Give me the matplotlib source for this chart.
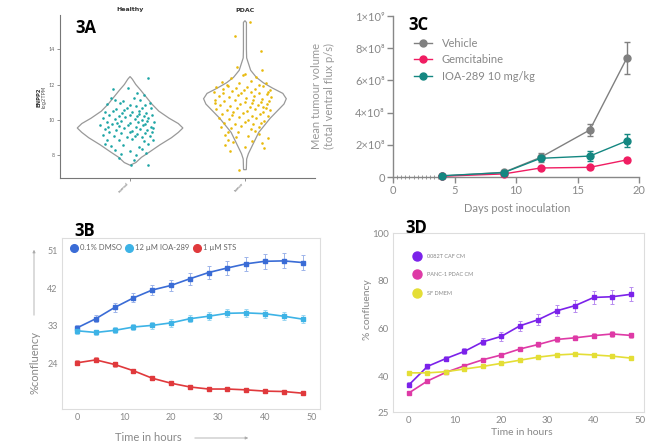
"""
Four-panel figure: ENPP2 violin (3A), incucyte confluency (3B, 3D),
tumour volume growth (3C).
"""
import numpy as np
import matplotlib
matplotlib.use("Agg")
import matplotlib.pyplot as plt
from matplotlib.lines import Line2D
from matplotlib.ticker import FixedLocator

W, H = 652, 444
GREY = "#888888"
FRAME = "#dddddd"

plt.rcParams["font.family"] = ["Lato", "DejaVu Sans"]

# ---------------- 3A : ENPP2 expression ----------------
categories = ["normal", "tumor"]
group_titles = ["Healthy", "PDAC"]

healthy_violin_y = [7.45, 7.6, 7.9, 8.2, 8.6, 9.0, 9.3, 9.55, 9.8, 10.1,
                    10.5, 10.9, 11.3, 11.7, 12.0, 12.3, 12.45]
healthy_violin_w = [0.0, 0.05, 0.10, 0.17, 0.26, 0.36, 0.42, 0.46, 0.42, 0.34,
                    0.25, 0.19, 0.14, 0.09, 0.05, 0.02, 0.0]
tumor_violin_y = [7.2, 7.8, 8.1, 8.5, 8.9, 9.3, 9.7, 10.1, 10.5, 10.9, 11.2,
                  11.5, 11.8, 12.1, 12.4, 12.8, 13.2, 13.5, 14.0, 15.5, 15.6]
tumor_violin_w = [0.012, 0.015, 0.03, 0.06, 0.09, 0.12, 0.17, 0.22, 0.28, 0.34,
                  0.36, 0.33, 0.24, 0.16, 0.10, 0.05, 0.03, 0.015, 0.013,
                  0.013, 0.0]

healthy_dx = [0.16, -0.15, -0.02, 0.06, 0.12, -0.17, -0.13, 0.17, 0.03, -0.06,
              0.09, -0.20, 0.00, 0.13, -0.09, 0.05, -0.03, 0.10, -0.12, 0.18,
              -0.22, -0.15, -0.05, 0.02, 0.08, 0.14, -0.18, -0.10, 0.00, 0.06,
              0.12, 0.19, -0.24, -0.13, -0.04, 0.04, 0.10, 0.16, -0.20, -0.08,
              0.00, 0.07, 0.13, 0.21, -0.26, -0.16, -0.10, -0.02, 0.05, 0.11,
              0.18, -0.22, -0.12, -0.05, 0.02, 0.09, 0.15, 0.20, -0.18, -0.08,
              0.00, 0.06, 0.13, 0.19, -0.24, -0.14, -0.03, 0.04, 0.10, 0.17,
              -0.19, 0.08, -0.07, 0.15, -0.11,
              -0.20, -0.10, 0.02, 0.12, 0.20, -0.17, -0.06, 0.08, 0.16, -0.13,
              0.00, 0.10, -0.22, -0.08, 0.05, 0.14, -0.10, 0.03, 0.01, 0.16]
healthy_y = [12.37, 11.72, 11.80, 11.52, 11.40, 11.22, 11.15, 10.95, 11.25, 11.05,
             11.10, 10.90, 10.85, 10.82, 10.95, 10.78, 10.70, 10.65, 10.60, 10.70,
             10.45, 10.50, 10.55, 10.45, 10.50, 10.40, 10.30, 10.25, 10.30, 10.20,
             10.25, 10.30, 10.10, 10.05, 10.15, 10.05, 10.00, 10.10, 9.90, 9.95,
             9.85, 9.90, 9.80, 9.90, 9.70, 9.75, 9.65, 9.70, 9.60, 9.70,
             9.62, 9.50, 9.45, 9.55, 9.40, 9.50, 9.45, 9.55, 9.30, 9.25,
             9.30, 9.20, 9.28, 9.35, 9.15, 9.10, 9.05, 9.12, 9.02, 9.10,
             9.60, 10.35, 10.40, 9.95, 9.85,
             8.90, 8.85, 8.92, 8.80, 8.88, 8.55, 8.60, 8.50, 8.62, 8.30,
             8.25, 8.35, 8.65, 8.10, 8.05, 8.15, 7.85, 7.75, 7.46, 7.46]

tumor_dx = [0.04, -0.09, 0.14, 0.15, -0.07, -0.16, 0.10, -0.02, -0.12, 0.05,
            0.18, -0.20, -0.05, 0.00,
            -0.25, -0.15, -0.08, 0.02, 0.09, 0.16, 0.22, -0.27, -0.19, -0.11,
            -0.03, 0.05, 0.12, 0.19, -0.23, -0.14, -0.06, 0.01, 0.08, 0.15,
            0.23, -0.26, -0.18, -0.09, 0.00, 0.07, 0.14, 0.21, -0.22, -0.13,
            -0.04, 0.04, 0.11, 0.18, -0.25, -0.16, -0.07, 0.02, 0.09, 0.16,
            0.22, -0.20, -0.11, -0.02, 0.06, 0.13, 0.20, -0.23, -0.14, -0.05,
            0.03, 0.10, 0.17, -0.18, -0.09, 0.00, 0.07, 0.14, -0.21, -0.12,
            -0.03, 0.05, 0.12, -0.15, -0.06, 0.09, 0.19, -0.19, 0.12, -0.01,
            0.06, -0.10, 0.16, -0.26, 0.20,
            -0.17, -0.08, 0.03, 0.12, -0.15, -0.17, 0.00, 0.15, 0.17, -0.10,
            0.06, -0.13, -0.05, 0.20]
tumor_y = [15.55, 14.73, 13.90, 12.80, 13.00, 12.00, 12.40, 12.55, 12.35, 12.20,
           12.10, 12.15, 12.10, 12.60,
           11.85, 11.90, 11.80, 11.85, 11.75, 11.90, 11.70, 11.60, 11.55, 11.65,
           11.50, 11.60, 11.55, 11.45, 11.35, 11.30, 11.40, 11.25, 11.35, 11.20,
           11.30, 11.10, 11.05, 11.15, 11.00, 11.10, 11.00, 11.05, 10.85, 10.80,
           10.90, 10.75, 10.85, 10.70, 10.60, 10.55, 10.65, 10.50, 10.60, 10.45,
           10.55, 10.35, 10.30, 10.40, 10.25, 10.35, 10.20, 10.10, 10.05, 10.15,
           10.00, 10.10, 9.95, 9.85, 9.80, 9.90, 9.75, 9.85, 9.60, 9.55,
           9.65, 9.50, 9.60, 9.35, 9.30, 9.40, 10.90, 11.75, 11.95, 11.70,
           10.95, 10.45, 10.75, 10.95, 11.60,
           9.15, 9.05, 9.10, 9.20, 8.90, 8.60, 8.50, 8.70, 8.40, 8.75,
           8.80, 8.25, 7.20, 9.00]

# ---------------- 3C : tumour volume ----------------
days = [4, 9, 12, 16, 19]
vehicle = [0.06e8, 0.29e8, 1.22e8, 2.92e8, 7.37e8]
vehicle_err = [0.02e8, 0.04e8, 0.30e8, 0.40e8, 1.00e8]
gemcitabine = [0.05e8, 0.19e8, 0.56e8, 0.60e8, 1.06e8]
gemcitabine_err = [0.01e8, 0.03e8, 0.06e8, 0.08e8, 0.15e8]
ioa289 = [0.08e8, 0.27e8, 1.16e8, 1.30e8, 2.24e8]
ioa289_err = [0.01e8, 0.03e8, 0.10e8, 0.30e8, 0.40e8]
c_yticks = [0, 2e8, 4e8, 6e8, 8e8, 1e9]
c_yticklabels = ["0", "2×10⁸", "4×10⁸", "6×10⁸", "8×10⁸", "1×10⁹"]

# ---------------- 3B : confluency ----------------
hours = [0, 4, 8, 12, 16, 20, 24, 28, 32, 36, 40, 44, 48]
dmso = [32.5, 34.7, 37.4, 39.7, 41.6, 42.7, 44.3, 45.8, 46.9, 47.9, 48.5, 48.6, 48.2]
dmso_err = [0.8, 0.9, 1.0, 1.1, 1.3, 1.4, 1.4, 1.5, 1.6, 1.7, 1.8, 1.8, 1.8]
ioa_b = [31.8, 31.4, 31.9, 32.7, 33.1, 33.7, 34.7, 35.3, 36.0, 36.1, 35.9, 35.3, 34.6]
ioa_b_err = [0.8, 0.7, 0.7, 0.8, 0.8, 0.9, 0.9, 0.9, 1.0, 1.0, 1.0, 1.0, 1.0]
sts = [24.1, 24.8, 23.7, 22.2, 20.4, 19.2, 18.3, 17.8, 17.8, 17.6, 17.3, 17.2, 16.8]
sts_err = [0.6, 0.6, 0.5, 0.4, 0.4, 0.3, 0.3, 0.3, 0.3, 0.3, 0.3, 0.3, 0.3]

# ---------------- 3D : confluency with conditioned media ----------------
caf = [36.4, 44.1, 47.4, 50.4, 54.4, 56.7, 61.1, 63.7, 67.4, 69.6, 73.0, 73.3, 74.3]
caf_err = [1.0, 1.0, 1.2, 1.3, 1.5, 1.8, 2.0, 2.2, 2.3, 2.5, 2.8, 3.0, 3.0]
panc = [33.0, 38.0, 41.6, 44.4, 46.9, 48.9, 51.4, 53.3, 55.4, 56.1, 57.0, 57.7, 57.1]
panc_err = [0.6, 0.6, 0.6, 0.8, 0.8, 0.9, 1.0, 1.0, 1.0, 1.0, 1.2, 1.2, 1.2]
sfdmem = [41.4, 41.4, 41.9, 43.0, 44.1, 45.4, 46.7, 48.0, 48.9, 49.3, 48.9, 48.4, 47.6]
sfdmem_err = [0.5, 0.5, 0.5, 0.5, 0.5, 0.5, 0.5, 0.5, 0.5, 0.5, 0.5, 0.5, 0.5]


def add_ax(fig, left, top, right, bottom):
    """Axes placed by pixel edges (origin top-left)."""
    return fig.add_axes([left / W, 1 - bottom / H, (right - left) / W,
                         (bottom - top) / H])


def ftext(fig, x, y, s, **kw):
    return fig.text(x / W, 1 - y / H, s, **kw)


def boxed(ax):
    for sp in ax.spines.values():
        sp.set_color(FRAME)
        sp.set_linewidth(0.8)
    ax.tick_params(length=0, labelcolor=GREY, labelsize=6.5, pad=3)


fig = plt.figure(figsize=(W / 100, H / 100), dpi=100)

# ---- 3A
ax = add_ax(fig, 60, 15, 315, 178)
for pos, vy, vw in [(1, healthy_violin_y, healthy_violin_w),
                    (2, tumor_violin_y, tumor_violin_w)]:
    vy = np.array(vy)
    vw = np.array(vw)
    xs = np.concatenate([pos - vw, (pos + vw)[::-1]])
    ys = np.concatenate([vy, vy[::-1]])
    ax.fill(xs, ys, facecolor="white", edgecolor="#999999", lw=0.9, zorder=1)
ax.scatter(1 + np.array(healthy_dx), healthy_y, s=3.5, color="#1ea5a5",
           lw=0, zorder=2)
ax.scatter(2 + np.array(tumor_dx), tumor_y, s=3.5, color="#e8b90c",
           lw=0, zorder=2)
ax.set_xlim(0.39, 2.61)
ax.set_ylim(6.73, 15.92)
ax.set_xticks([1, 2])
ax.set_xticklabels(categories, rotation=45, ha="right", fontsize=3.2,
                   color="#666666")
ax.set_yticks([8, 10, 12, 14])
ax.tick_params(axis="y", labelsize=3.8, labelcolor="#666666", length=2,
               width=0.5, color="#666666", pad=2)
ax.tick_params(axis="x", length=2, width=0.5, color="#666666", pad=1)
for side in ["top", "right"]:
    ax.spines[side].set_visible(False)
for side in ["left", "bottom"]:
    ax.spines[side].set_color("#777777")
    ax.spines[side].set_linewidth(0.8)
for pos, t in zip([130, 245], group_titles):
    ftext(fig, pos, 10, t, ha="center", va="center", fontsize=4.5,
          fontweight="bold", color="#333333", family=["DejaVu Sans"])
ftext(fig, 39, 97, "ENPP2", rotation=90, ha="center", va="center",
      fontsize=3.8, fontweight="bold", color="#333333", family=["DejaVu Sans"])
ftext(fig, 44, 97, "log2TPM", rotation=90, ha="center", va="center",
      fontsize=3.8, color="#555555", family=["DejaVu Sans"])

# ---- 3C
ax = add_ax(fig, 393, 16, 639, 177)
series_c = [("Vehicle", vehicle, vehicle_err, "#808080"),
            ("Gemcitabine", gemcitabine, gemcitabine_err, "#f01d62"),
            ("IOA-289 10 mg/kg", ioa289, ioa289_err, "#148781")]
handles = []
for label, vals, err, col in series_c:
    ax.errorbar(days, vals, yerr=err, color=col, marker="o", ms=5, lw=1.0,
                elinewidth=1.0, capsize=2.5, capthick=1.0, clip_on=False,
                zorder=3)
    handles.append(Line2D([], [], color=col, marker="o", ms=5, lw=1.0,
                          label=label))
ax.set_xlim(0, 20)
ax.set_ylim(0, 1e9)
ax.set_xticks([0, 5, 10, 15, 20])
ax.xaxis.set_minor_locator(FixedLocator(np.arange(1 / 3, 4, 1 / 3)))
ax.set_yticks(c_yticks)
ax.set_yticklabels(c_yticklabels)
for side in ["top", "right"]:
    ax.spines[side].set_visible(False)
for side in ["left", "bottom"]:
    ax.spines[side].set_color(GREY)
    ax.spines[side].set_linewidth(1.0)
ax.tick_params(which="major", length=4, width=1.0, color=GREY,
               labelcolor=GREY, labelsize=8, pad=2)
ax.tick_params(which="minor", axis="x", direction="inout", length=2.5,
               width=0.6, color=GREY)
ax.legend(handles=handles, loc="upper left", bbox_to_anchor=(0.067, 0.894),
          frameon=False, fontsize=8, borderaxespad=0, borderpad=0.4,
          handlelength=1.6, handletextpad=0.9, labelspacing=0.5,
          labelcolor=GREY)
ftext(fig, 517, 208, "Days post inoculation", ha="center", va="center",
      fontsize=8, color=GREY)
ftext(fig, 323, 96, "Mean tumour volume\n(total ventral flux p/s)",
      rotation=90, ha="center", va="center", fontsize=8, color="#999999",
      linespacing=1.25)

# ---- 3B
ax = add_ax(fig, 62, 238, 320, 409)
series_b = [("0.1% DMSO", dmso, dmso_err, "#3a6cd6", "#9db4ea"),
            ("12 µM IOA-289", ioa_b, ioa_b_err, "#3db3e6", "#9ad6f2"),
            ("1 µM STS", sts, sts_err, "#e0393c", "#ef9a9a")]
handles = []
for label, vals, err, col, ecol in series_b:
    ax.errorbar(hours, vals, yerr=err, color=col, marker="s", ms=2.2, lw=1.2,
                ecolor=ecol, elinewidth=0.7, capsize=1.6, capthick=0.7)
    handles.append(Line2D([], [], color=col, marker="o", ms=5.5, ls="none",
                          label=label))
ax.set_xlim(-3.2, 51.7)
ax.set_ylim(13.0, 54.1)
ax.set_xticks([0, 10, 20, 30, 40, 50])
ax.set_yticks([24, 33, 42, 51])
boxed(ax)
ax.legend(handles=handles, loc="upper left", bbox_to_anchor=(0.032, 0.962),
          ncol=3, frameon=False, fontsize=5.5, borderaxespad=0, borderpad=0,
          handlelength=1.0, handletextpad=0.25, columnspacing=0.5,
          labelcolor="#666666")
ftext(fig, 35, 362, "%confluency", rotation=90, ha="center", va="center",
      fontsize=8, color=GREY)
ftext(fig, 148, 437, "Time in hours", ha="center", va="center",
      fontsize=8, color=GREY)
fig.add_artist(matplotlib.patches.FancyArrowPatch(
    (34 / W, 1 - 318 / H), (34 / W, 1 - 247 / H), transform=fig.transFigure,
    arrowstyle="-|>", mutation_scale=4, color="#aaaaaa", lw=0.6))
fig.add_artist(matplotlib.patches.FancyArrowPatch(
    (192 / W, 1 - 438 / H), (251 / W, 1 - 438 / H), transform=fig.transFigure,
    arrowstyle="-|>", mutation_scale=4, color="#aaaaaa", lw=0.6))

# ---- 3D
ax = add_ax(fig, 393, 233, 644, 412)
series_d = [("0082T CAF CM", caf, caf_err, "#7b22ea", "#b88cf0"),
            ("PANC-1 PDAC CM", panc, panc_err, "#de3aa6", "#ef9ccf"),
            ("SF DMEM", sfdmem, sfdmem_err, "#e4de36", "#efeb9c")]
handles = []
for label, vals, err, col, ecol in series_d:
    ax.errorbar(hours, vals, yerr=err, color=col, marker="s", ms=2.2, lw=1.2,
                ecolor=ecol, elinewidth=0.7, capsize=1.6, capthick=0.7)
    handles.append(Line2D([], [], color=col, marker="o", ms=6.5, ls="none",
                          label=label))
ax.set_xlim(-3.46, 50.87)
ax.set_ylim(25, 100)
ax.set_xticks([0, 10, 20, 30, 40, 50])
ax.set_yticks([25, 40, 60, 80, 100])
boxed(ax)
ax.tick_params(labelsize=7)
ax.legend(handles=handles, loc="upper left", bbox_to_anchor=(0.084, 0.883),
          frameon=False, fontsize=4, borderaxespad=0, borderpad=0,
          handlelength=1.0, handletextpad=1.3, labelspacing=2.4,
          labelcolor=GREY)
ftext(fig, 368, 310, "% confluency", rotation=90, ha="center", va="center",
      fontsize=7.5, color=GREY)
ftext(fig, 522, 432, "Time in hours", ha="center", va="center",
      fontsize=7.5, color=GREY)

# ---- panel letters
for x, y, s in [(86, 28, "3A"), (85, 231, "3B"), (418, 25, "3C"),
                (416, 228, "3D")]:
    ftext(fig, x, y, s, ha="center", va="center", fontsize=12,
          fontweight="bold", color="black", family=["Open Sans", "DejaVu Sans"])

fig.savefig("out.png", dpi=100)
